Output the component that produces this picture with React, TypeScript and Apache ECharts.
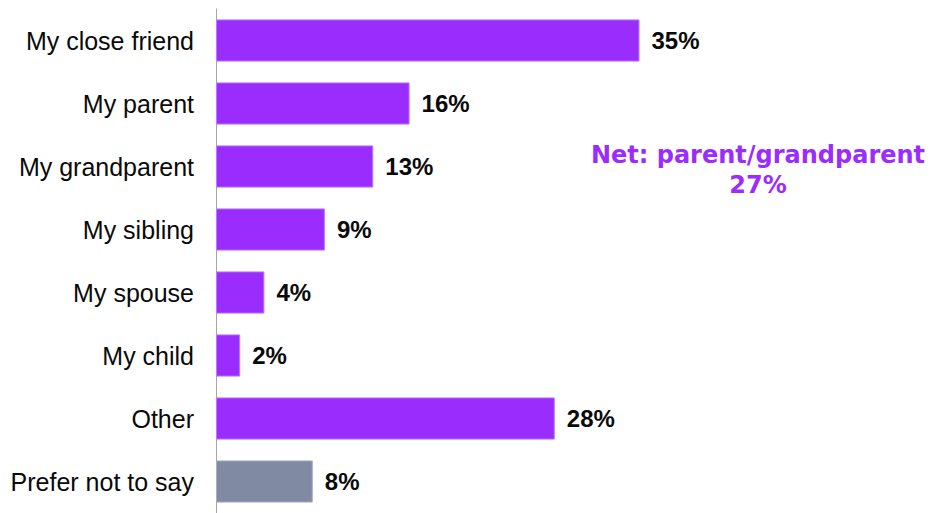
import React, { useEffect, useRef } from "react";
import * as echarts from "echarts";

const categories = [
  "My close friend",
  "My parent",
  "My grandparent",
  "My sibling",
  "My spouse",
  "My child",
  "Other",
  "Prefer not to say",
];
const values = [35, 16, 13, 9, 4, 2, 28, 8];
const barColors = ["#9b2cfe", "#9b2cfe", "#9b2cfe", "#9b2cfe", "#9b2cfe", "#9b2cfe", "#9b2cfe", "#808aa2"];
const borderColors = ["#b77cff", "#b77cff", "#b77cff", "#b77cff", "#b77cff", "#b77cff", "#b77cff", "#a9b0c2"];
const netLabel = "Net: parent/grandparent";
const netValue = 27;

export default function App() {
  const ref = useRef<HTMLDivElement>(null);

  useEffect(() => {
    if (!ref.current) return;
    const chart = echarts.init(ref.current, null, { renderer: "svg" });
    chart.setOption({
      animation: false,
      grid: { left: 216, right: 109, top: 9, bottom: 0, containLabel: false },
      xAxis: {
        type: "value",
        min: 0,
        max: 50,
        show: false,
      },
      yAxis: {
        type: "category",
        data: categories,
        inverse: true,
        axisLine: { show: true, lineStyle: { color: "#a6a6a6", width: 1 } },
        axisTick: { show: false },
        splitLine: { show: false },
        axisLabel: {
          margin: 22,
          fontSize: 25,
          fontFamily: "Liberation Sans, Arial, sans-serif",
          color: "#0a0a0a",
        },
      },
      series: [
        {
          type: "bar",
          barCategoryGap: "33%",
          data: values.map((v, i) => ({
            value: v,
            itemStyle: { color: barColors[i], borderColor: borderColors[i], borderWidth: 1 },
          })),
          label: {
            show: true,
            position: "right",
            distance: 12,
            formatter: "{c}%",
            fontSize: 24,
            fontWeight: "bold",
            fontFamily: "Liberation Sans, Arial, sans-serif",
            color: "#0a0a0a",
          },
        },
      ],
      graphic: [
        {
          type: "text",
          x: 758,
          y: 170,
          style: {
            text: `${netLabel}\n${netValue}%`,
            fill: "#9b2cfe",
            font: "bold 24px 'DejaVu Sans', Verdana, sans-serif",
            textAlign: "center",
            textVerticalAlign: "middle",
            lineHeight: 30,
          },
        },
      ],
    });
    return () => chart.dispose();
  }, []);

  return (
    <div
      ref={ref}
      style={{ position: "absolute", left: 0, top: 0, width: 930, height: 513, background: "#fff" }}
    />
  );
}
